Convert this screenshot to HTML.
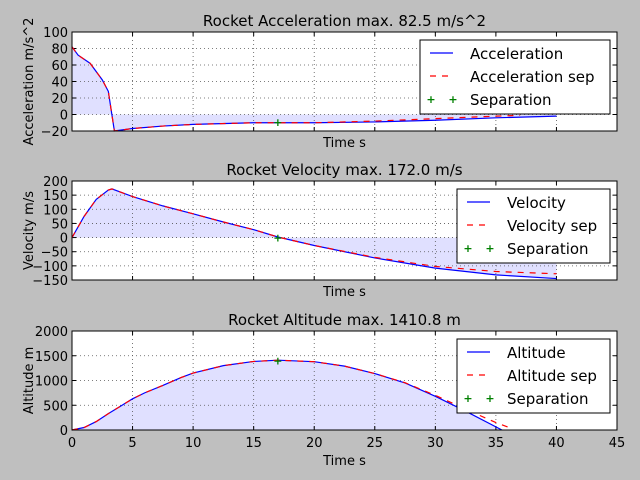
<!DOCTYPE html>
<html><head><meta charset="utf-8"><style>
body{margin:0;background:#bfbfbf;}
svg{display:block;font-family:"DejaVu Sans","Liberation Sans",sans-serif;}
</style></head><body>
<svg id="c" width="640" height="480"></svg>
<script>
const xTicks=[0,5,10,15,20,25,30,35,40,45];
const accT=[0,0.5,1.5,2.5,3,3.5,5,7.5,10,15,20,25,30,35,40];
const accV=[82,72,62,42,28,-20,-17,-14,-12,-10,-10,-9,-7,-4,-2];
const accSepT=[0,0.5,1.5,2.5,3,3.5,5,7.5,10,15,20,25,30,35,37];
const accSepV=[82,72,62,42,28,-20,-17,-14,-12,-10,-10,-8,-5,-2,-1];
const velT=[0,1,2,3,3.3,5,7.5,10,12.5,15,17,20,25,30,35,40];
const velV=[0,75,135,168,172,145,112,84,55,28,2,-28,-72,-108,-132,-145];
const velSepT=[0,1,2,3,3.3,5,7.5,10,12.5,15,17,20,25,30,35,40];
const velSepV=[0,75,135,168,172,145,112,84,55,28,2,-28,-70,-102,-120,-128];
const altT=[0,1,2,3,4,5,6,7.5,9,10,12.5,15,17,20,22.5,25,27.5,30,32.5,35.5];
const altV=[0,50,170,330,480,630,750,900,1060,1150,1300,1385,1410,1380,1290,1140,950,680,380,0];
const altSepT=[0,1,2,3,4,5,6,7.5,9,10,12.5,15,17,20,22.5,25,27.5,30,32.5,35,36];
const altSepV=[0,50,170,330,480,630,750,900,1060,1150,1300,1385,1410,1380,1290,1140,955,700,420,150,60];
const sepT=[17];const sepAcc=[-9];const sepVel=[0];const sepAlt=[1400];
const panels=[
 {top:32,bot:131,ymin:-20,ymax:100,yt:[-20,0,20,40,60,80,100],title:"Rocket Acceleration max. 82.5 m/s^2",yl:"Acceleration m/s^2",t:accT,v:accV,st:accSepT,sv:accSepV,sp:sepAcc,names:["Acceleration","Acceleration sep","Separation"],lg:[420,40,190,74],xl:false,n:"acceleration"},
 {top:181,bot:280,ymin:-150,ymax:200,yt:[-150,-100,-50,0,50,100,150,200],title:"Rocket Velocity max. 172.0 m/s",yl:"Velocity m/s",t:velT,v:velV,st:velSepT,sv:velSepV,sp:sepVel,names:["Velocity","Velocity sep","Separation"],lg:[457,189,153,74],xl:false,n:"velocity"},
 {top:331,bot:430,ymin:0,ymax:2000,yt:[0,500,1000,1500,2000],title:"Rocket Altitude max. 1410.8 m",yl:"Altitude m",t:altT,v:altV,st:altSepT,sv:altSepV,sp:sepAlt,names:["Altitude","Altitude sep","Separation"],lg:[457,339,153,74],xl:true,n:"altitude"}];
const svg=document.getElementById('c');const NS="http://www.w3.org/2000/svg";
function mk(tag,at,txt){const e=document.createElementNS(NS,tag);for(const k in at)e.setAttribute(k,at[k]);if(txt!==undefined)e.textContent=txt;svg.appendChild(e);return e;}
const L=72,R=617;const X=t=>L+(t-0)/45*(R-L);
panels.forEach(p=>{
 const Y=v=>p.bot-(v-p.ymin)/(p.ymax-p.ymin)*(p.bot-p.top);
 let r=mk('rect',{x:L,y:p.top,width:R-L,height:p.bot-p.top,fill:'#fff'});
 
 let d='M'+X(p.t[0])+','+Y(0);p.t.forEach((t,i)=>d+='L'+X(t)+','+Y(p.v[i]));d+='L'+X(p.t[p.t.length-1])+','+Y(0)+'Z';
 let f=mk('path',{d:d,fill:'#e0e0ff',stroke:'none'});
 xTicks.forEach(t=>{let g=mk('line',{x1:X(t),x2:X(t),y1:p.top,y2:p.bot,stroke:'#555','stroke-dasharray':'1,3','stroke-width':0.8});
  mk('line',{x1:X(t),x2:X(t),y1:p.bot,y2:p.bot-4,stroke:'#000'});mk('line',{x1:X(t),x2:X(t),y1:p.top,y2:p.top+4,stroke:'#000'});
  if(p.xl){let l=mk('text',{x:X(t),y:p.bot+17,'text-anchor':'middle','font-size':13},t);}});
 p.yt.forEach(v=>{let g=mk('line',{x1:L,x2:R,y1:Y(v),y2:Y(v),stroke:'#555','stroke-dasharray':'1,3','stroke-width':0.8});
  mk('line',{x1:L,x2:L+4,y1:Y(v),y2:Y(v),stroke:'#000'});mk('line',{x1:R,x2:R-4,y1:Y(v),y2:Y(v),stroke:'#000'});
  let l=mk('text',{x:L-4,y:Y(v)+5,'text-anchor':'end','font-size':13},String(v).replace('-','\u2212'));});
 let pts=p.t.map((t,i)=>X(t)+','+Y(p.v[i])).join(' ');
 let m=mk('polyline',{points:pts,fill:'none',stroke:'#0000ff','stroke-width':1.2});
 let s=mk('polyline',{points:p.st.map((t,i)=>X(t)+','+Y(p.sv[i])).join(' '),fill:'none',stroke:'#ff0000','stroke-width':1.2,'stroke-dasharray':'6,6'});
 sepT.forEach((t,i)=>{let c=mk('text',{x:X(t),y:Y(p.sp[i])+4,'text-anchor':'middle','font-size':11,fill:'#008000','font-weight':'bold'},'+');});
 let b=mk('rect',{x:L,y:p.top,width:R-L,height:p.bot-p.top,fill:'none',stroke:'#000','stroke-width':1});
 let ti=mk('text',{x:(L+R)/2,y:p.top-6,'text-anchor':'middle','font-size':15},p.title);
 let yl=mk('text',{x:0,y:0,'text-anchor':'middle','font-size':13,transform:'translate(33,'+((p.top+p.bot)/2)+') rotate(-90)'},p.yl);
 let xl=mk('text',{x:(L+R)/2,y:p.bot+(p.xl?35:16),'text-anchor':'middle','font-size':13},'Time s');
 const [lx,ly,lw,lh]=p.lg;
 let lb=mk('rect',{x:lx,y:ly,width:lw,height:lh,fill:'#fff',stroke:'#000'});
 [0,1,2].forEach(k=>{const yy=ly+13+k*23;
  if(k==0)mk('line',{x1:lx+10,x2:lx+33,y1:yy,y2:yy,stroke:'#0000ff','stroke-width':1.2});
  if(k==1)mk('line',{x1:lx+10,x2:lx+33,y1:yy,y2:yy,stroke:'#ff0000','stroke-width':1.2,'stroke-dasharray':'6,6'});
  if(k==2){mk('text',{x:lx+11,y:yy+4,'text-anchor':'middle','font-size':11,fill:'#008000','font-weight':'bold'},'+');mk('text',{x:lx+33,y:yy+4,'text-anchor':'middle','font-size':11,fill:'#008000','font-weight':'bold'},'+');}
  let lt=mk('text',{x:lx+50,y:yy+6,'font-size':15},p.names[k]);});
});
</script></body></html>
